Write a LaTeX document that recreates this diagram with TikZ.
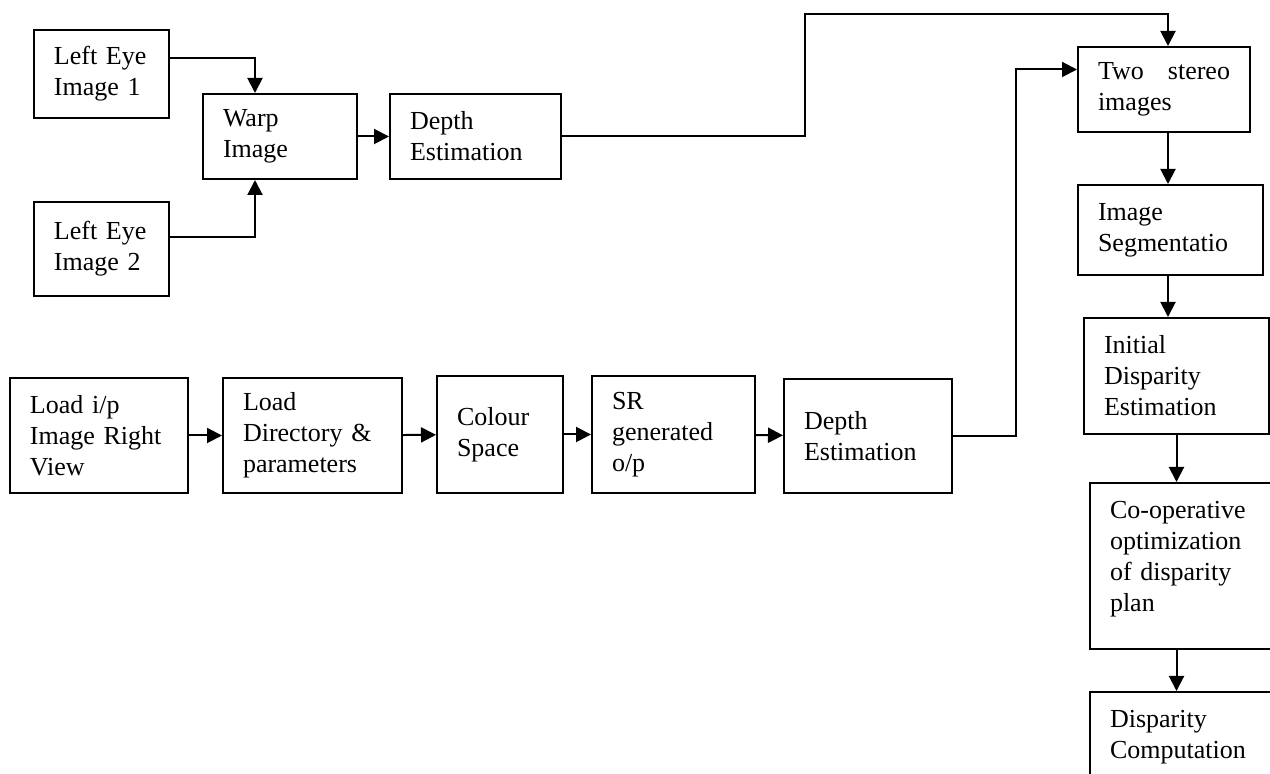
\documentclass[tikz,border=0pt]{standalone}
\usepackage{fontspec}
\setmainfont{Liberation Serif}
\usetikzlibrary{arrows.meta}
\tikzset{
  block/.style={rectangle, draw=black, line width=1pt, fill=white, align=left,
    anchor=north west, inner xsep=10pt, inner ysep=2pt,
    font=\fontsize{13}{15.5}\selectfont},
  flow/.style={-{Triangle[length=7.5pt,width=7.5pt]}, draw=black, line width=1pt},
}

\begin{document}
\begin{tikzpicture}[x=0.5pt, y=-0.5pt]
    \useasboundingbox (0,0) rectangle (1270,774);
    % left eye branch
    \node[block, text width=47.5pt, minimum height=44pt] (eye1) at (33,29) {Left Eye\\Image 1};
    \node[block, text width=47.5pt, minimum height=47pt] (eye2) at (33,201) {Left Eye\\Image 2};
    \node[block, text width=57pt, minimum height=42.5pt] (warp) at (202,93) {Warp\\Image};
    \node[block, text width=65.5pt, minimum height=42.5pt] (depth1) at (389,93) {Depth\\Estimation};
    % right view branch
    \node[block, text width=68.75pt, minimum height=57.5pt] (load) at (9,377) {Load i/p\\Image Right\\View};
    \node[block, text width=69.5pt, minimum height=57.5pt] (dir) at (222,377) {Load\\Directory \&\\parameters};
    \node[block, text width=43pt, minimum height=58.5pt] (colour) at (436,375) {Colour\\Space};
    \node[block, text width=61.5pt, minimum height=58.5pt] (sr) at (591,375) {SR\\generated\\o/p};
    \node[block, text width=64pt, minimum height=57pt] (depth2) at (783,378) {Depth\\Estimation};
    % stereo column
    \node[block, text width=66pt, minimum height=42.5pt] (stereo) at (1077,46) {Two\hfill stereo\\images};
    \node[block, text width=72.5pt, minimum height=45pt] (segm) at (1077,184) {Image\\Segmentatio};
    \node[block, text width=72.5pt, minimum height=58pt] (init) at (1083,317) {Initial\\Disparity\\Estimation};
    \node[block, text width=71.5pt, minimum height=83pt, text depth=56.3pt] (coop) at (1089,482) {Co-operative\\optimization\\of disparity\\plan};
    \node[block, text width=71.5pt, minimum height=45pt] (comp) at (1089,691) {Disparity\\Computation};

    \draw[flow] ([yshift=8pt]eye1.east) -| ([xshift=-12.5pt]warp.north);
    \draw[flow] ([yshift=6pt]eye2.east) -| ([xshift=-12.5pt]warp.south);
    \draw[flow] (warp) -- (depth1);
    \draw[flow] (depth1.east) -- ++(243,0) |- ([xshift=2pt,yshift=16pt]stereo.north) -- ([xshift=2pt]stereo.north);
    \draw[flow] (load) -- (dir);
    \draw[flow] (dir) -- (colour);
    \draw[flow] (colour) -- (sr);
    \draw[flow] (sr) -- (depth2);
    \draw[flow] (depth2.east) -- ++(63,0) |- ([yshift=10pt]stereo.west);
    \draw[flow] ([xshift=2pt]stereo.south) -- ([xshift=2pt]stereo.south |- segm.north);
    \draw[flow] ([xshift=2pt]stereo.south |- segm.south) -- ([xshift=2pt]stereo.south |- init.north);
    \draw[flow] (init.south) -- (init.south |- coop.north);
    \draw[flow] (init.south |- coop.south) -- (init.south |- comp.north);
\end{tikzpicture}
\end{document}
